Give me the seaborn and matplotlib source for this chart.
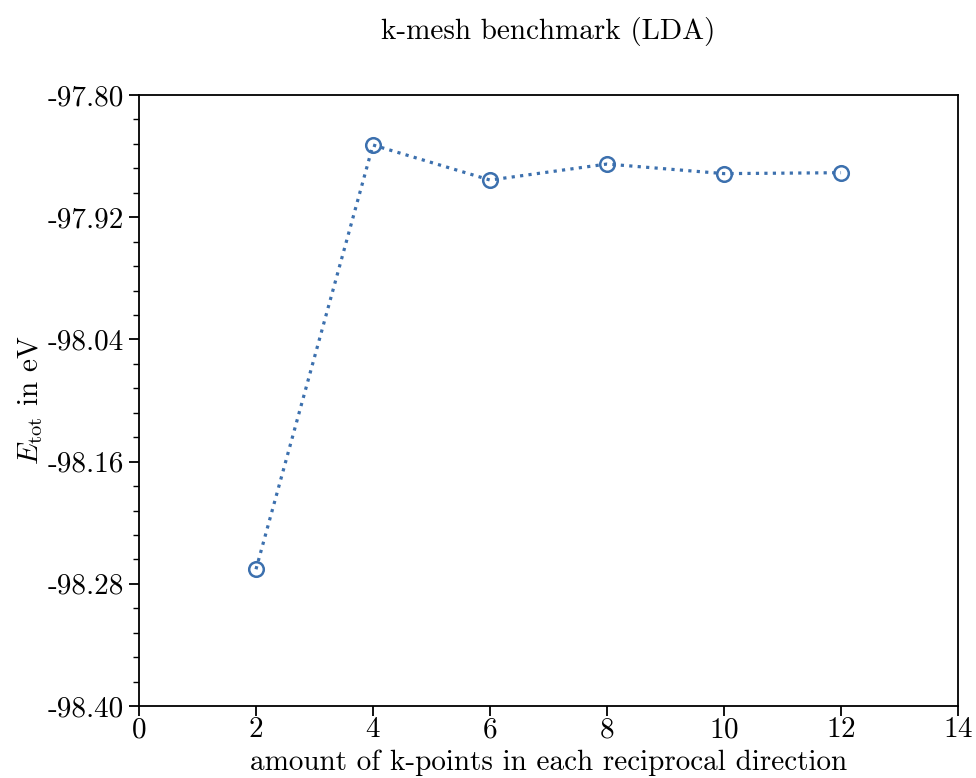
import matplotlib
matplotlib.use("Agg")
import matplotlib.pyplot as plt
from matplotlib.ticker import MultipleLocator, FormatStrFormatter
import seaborn as sns
import pandas as pd

# k-point convergence data (LDA total energies)
kpoints = [2, 4, 6, 8, 10, 12]
energies = [-98.2657, -97.8491, -97.8835, -97.8678, -97.8772, -97.8763]

sns.set_theme(style="ticks")
plt.rcParams["font.family"] = ["cmr10", "DejaVu Serif"]
plt.rcParams["mathtext.fontset"] = "cm"
plt.rcParams["axes.formatter.use_mathtext"] = True
plt.rcParams["axes.unicode_minus"] = False

df = pd.DataFrame({"k": kpoints, "E": energies})

fig = plt.figure(figsize=(9.76, 7.78), dpi=100)
ax = fig.add_axes([0.1424, 0.0925, 0.8392, 0.7854])

color = "#3c70ae"
sns.lineplot(data=df, x="k", y="E", ax=ax, color=color, linestyle=":",
             linewidth=2.3, marker="o", markersize=10.5, markerfacecolor="none",
             markeredgecolor=color, markeredgewidth=1.8)

ax.set_xlim(0, 14)
ax.set_ylim(-98.40, -97.80)
ax.xaxis.set_major_locator(MultipleLocator(2))
ax.yaxis.set_major_locator(MultipleLocator(0.12))
ax.yaxis.set_minor_locator(MultipleLocator(0.024))
ax.yaxis.set_major_formatter(FormatStrFormatter("%.2f"))

for s in ax.spines.values():
    s.set_linewidth(1.3)
    s.set_color("black")
ax.tick_params(axis="both", which="major", labelsize=21, length=7, width=1.3,
               color="black", labelcolor="black")
ax.tick_params(axis="x", which="major", pad=1)
ax.tick_params(axis="y", which="major", pad=4)
ax.tick_params(axis="y", which="minor", length=4, width=1.0, color="black")

ax.set_xlabel("amount of k-points in each reciprocal direction", fontsize=21,
              labelpad=4, color="black")
ax.set_ylabel(r"$E_{\mathrm{tot}}$ in eV", fontsize=21, labelpad=2, color="black")
ax.set_title("k-mesh benchmark (LDA)", fontsize=21, pad=40, color="black")

fig.savefig("out.png", dpi=100)
